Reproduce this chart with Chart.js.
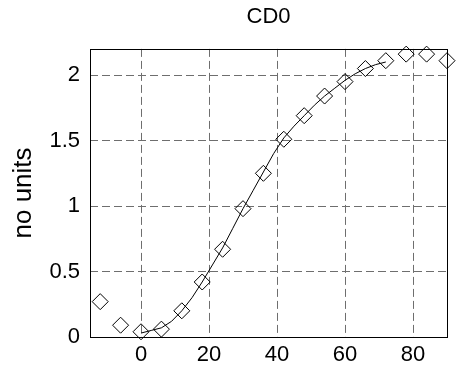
<!DOCTYPE html>
<html>
<head>
<meta charset="utf-8">
<script src="https://cdn.jsdelivr.net/npm/chart.js@4/dist/chart.umd.min.js"></script>
<style>
  html, body { margin: 0; padding: 0; background: #ffffff; }
  canvas { display: block; }
</style>
</head>
<body>
<canvas id="grafica" width="456" height="375"></canvas>
<script>
// Datos medidos (rombos)
const ANGULOS = [-12, -6, 0, 6, 12, 18, 24, 30, 36, 42, 48, 54, 60, 66, 72, 78, 84, 90];
const CD0_MEDIDO = [0.27, 0.09, 0.04, 0.06, 0.20, 0.42, 0.67, 0.98, 1.25, 1.51, 1.69, 1.84, 1.95, 2.05, 2.11, 2.16, 2.16, 2.11];

// Curva de ajuste (linea continua)
const ANGULOS_AJUSTE = [0, 3, 6, 9, 12, 15, 18, 21, 24, 27, 30, 33, 36, 39, 42, 45, 48, 51, 54, 57, 60, 63, 66, 69, 72];
const CD0_AJUSTE = [0.03, 0.05, 0.07, 0.12, 0.20, 0.30, 0.42, 0.55, 0.68, 0.83, 0.98, 1.12, 1.26, 1.40, 1.52, 1.61, 1.69, 1.77, 1.84, 1.90, 1.96, 2.01, 2.05, 2.08, 2.10];

// Ticks de los ejes
const TICKS_X = [0, 20, 40, 60, 80];
const TICKS_Y = [0, 0.5, 1, 1.5, 2];

const FUENTE = { family: "'Liberation Sans', Arial, sans-serif", size: 22 };

function puntos(xs, ys) {
  return xs.map((x, i) => ({ x: x, y: ys[i] }));
}

// Marco negro alrededor del area (estilo matlab)
const marco = {
  id: "marco",
  beforeDatasetsDraw(chart) {
    let { ctx, chartArea } = chart;
    ctx.save();
    ctx.strokeStyle = "#000000";
    ctx.lineWidth = 1;
    ctx.strokeRect(
      Math.round(chartArea.left) + 0.5,
      Math.round(chartArea.top) + 0.5,
      Math.round(chartArea.right - chartArea.left),
      Math.round(chartArea.bottom - chartArea.top)
    );
    ctx.restore();
  },
};

function grafica_cd0(id) {
  let grid = {
    color: "#6e6e6e",
    lineWidth: 1,
    drawTicks: false,
  };

  let chart = new Chart(id, {
    type: "scatter",
    data: {
      datasets: [
        {
          data: puntos(ANGULOS_AJUSTE, CD0_AJUSTE),
          showLine: true,
          borderColor: "#000000",
          borderWidth: 1,
          pointRadius: 0,
          tension: 0,
        },
        {
          data: puntos(ANGULOS, CD0_MEDIDO),
          pointStyle: "rectRot",
          pointRadius: 8,
          borderColor: "#000000",
          backgroundColor: "rgba(0,0,0,0)",
          borderWidth: 1,
          clip: false,
        },
      ],
    },
    options: {
      responsive: false,
      animation: false,
      layout: { padding: { left: 0, right: 3, top: 0, bottom: 0 } },
      scales: {
        x: {
          type: "linear",
          min: -15,
          max: 90,
          afterBuildTicks: (s) => { s.ticks = TICKS_X.map((v) => ({ value: v })); },
          afterFit: (s) => { s.height = 38; },
          grid: grid,
          border: { display: false, dash: [8, 4] },
          ticks: { color: "#000000", font: FUENTE, padding: 5, maxRotation: 0 },
        },
        y: {
          type: "linear",
          min: 0,
          max: 2.2,
          afterBuildTicks: (s) => { s.ticks = TICKS_Y.map((v) => ({ value: v })); },
          afterFit: (s) => { s.width = 90; },
          grid: grid,
          border: { display: false, dash: [8, 4] },
          ticks: {
            color: "#000000",
            font: FUENTE,
            padding: 10,
            callback: (v) => String(v),
          },
          title: {
            display: true,
            text: "no units",
            color: "#000000",
            font: { ...FUENTE, size: 26 },
            padding: { top: 8, bottom: 0 },
          },
        },
      },
      plugins: {
        legend: { display: false },
        tooltip: { enabled: false },
        title: {
          display: true,
          text: "CD0",
          color: "#000000",
          font: { ...FUENTE, weight: "normal" },
          fullSize: false,
          padding: { top: 3.5, bottom: 19 },
        },
      },
    },
    plugins: [marco],
  });
  return chart;
}

grafica_cd0(document.getElementById("grafica"));
</script>
</body>
</html>
